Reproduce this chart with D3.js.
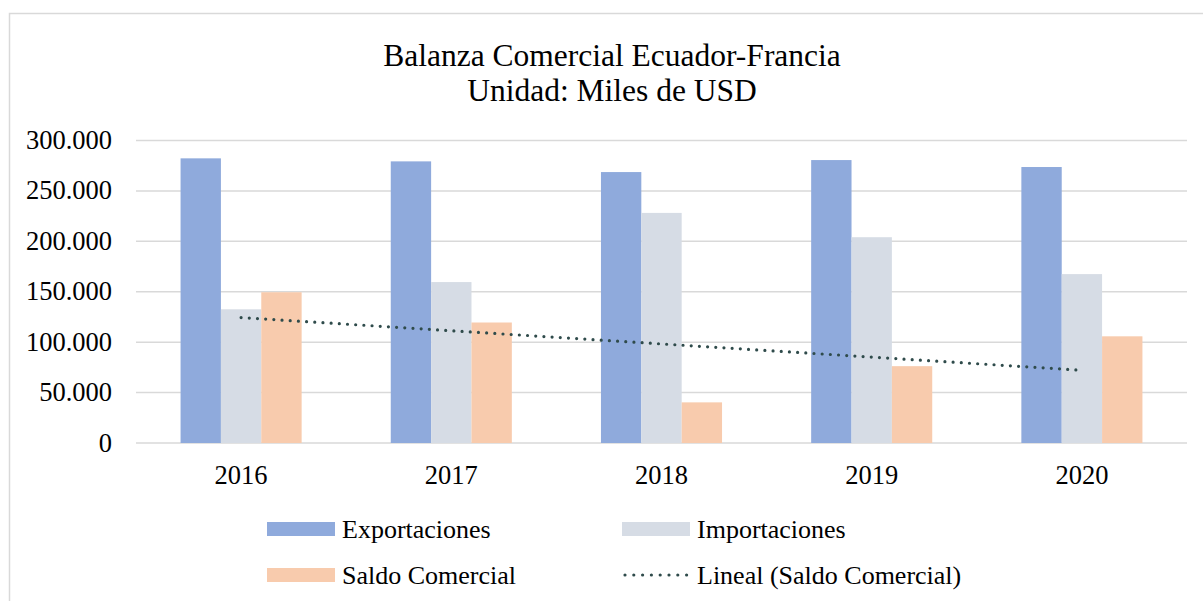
<!DOCTYPE html>
<html>
<head>
<meta charset="utf-8">
<script src="https://cdn.jsdelivr.net/npm/d3@7"></script>
<style>
  body { margin: 0; background: #fff; }
  svg { display: block; font-family: "Liberation Serif", "Times New Roman", serif; }
</style>
</head>
<body>
<div id="plot"></div>
<script>
// Chart data (miles de USD)
const years = ["2016", "2017", "2018", "2019", "2020"];
const exportaciones = [282300, 279300, 268700, 280600, 273700];
const importaciones = [132600, 159600, 228200, 204100, 167500];
const saldoComercial = [149500, 119500, 40300, 76200, 105800];
const yTicks = [0, 50000, 100000, 150000, 200000, 250000, 300000];
const seriesNames = ["Exportaciones", "Importaciones", "Saldo Comercial"];
const trendName = "Lineal (Saldo Comercial)";
const titleLines = ["Balanza Comercial Ecuador-Francia", "Unidad: Miles de USD"];

const colors = ["#8faadc", "#d6dce5", "#f8cbad"];
const trendColor = "#2f4b4b";

const width = 1203;
const height = 601;
const marginTop = 140.5;
const marginBottom = 158;
const plotLeft = 136;
const plotRight = 1187;

const svg = d3.select("#plot")
    .append("svg")
    .attr("width", width)
    .attr("height", height)
    .attr("viewBox", [0, 0, width, height]);

// Chart frame
svg.append("rect")
    .attr("x", 9.5).attr("y", 13.5)
    .attr("width", width + 20).attr("height", height + 20)
    .attr("fill", "#fff")
    .attr("stroke", "#d9d9d9")
    .attr("stroke-width", 1.5);

function addText(g, x, y, str, size, anchor) {
    return g.append("text")
        .attr("x", x).attr("y", y)
        .attr("text-anchor", anchor || "start")
        .attr("font-size", size)
        .attr("fill", "#000")
        .text(str);
}

// Title
addText(svg, 612, 66, titleLines[0], 31.5, "middle");
addText(svg, 612, 101, titleLines[1], 31.5, "middle");

// Scales
const y = d3.scaleLinear()
    .domain([0, 300000])
    .range([height - marginBottom, marginTop]);

const x0 = d3.scaleBand()
    .domain(years)
    .range([plotLeft, plotRight])
    .paddingInner(0.424)
    .paddingOuter(0.212);

const x1 = d3.scaleBand()
    .domain(seriesNames)
    .range([0, x0.bandwidth()]);

// Gridlines
svg.append("g")
    .selectAll("line")
    .data(yTicks)
    .join("line")
    .attr("x1", plotLeft).attr("x2", plotRight)
    .attr("y1", d => y(d)).attr("y2", d => y(d))
    .attr("stroke", "#d9d9d9")
    .attr("stroke-width", 1.5);

// Y tick labels
const fmt = d => d === 0 ? "0" : d3.format(",")(d).replace(/,/g, ".");
const yLab = svg.append("g");
yTicks.forEach(t => addText(yLab, 112, y(t) + 8.5, fmt(t), 26.5, "end"));

// X tick labels
const xLab = svg.append("g");
years.forEach(yr => addText(xLab, x0(yr) + x0.bandwidth() / 2, 484, yr, 26.5, "middle"));

// Bars
const seriesData = [exportaciones, importaciones, saldoComercial];
const rows = years.map((yr, i) => ({
    year: yr,
    values: seriesNames.map((s, k) => ({ key: s, k: k, value: seriesData[k][i] }))
}));

svg.append("g")
    .selectAll("g")
    .data(rows)
    .join("g")
    .attr("transform", d => `translate(${x0(d.year)},0)`)
    .selectAll("rect")
    .data(d => d.values)
    .join("rect")
    .attr("x", d => x1(d.key))
    .attr("y", d => y(d.value))
    .attr("width", x1.bandwidth())
    .attr("height", d => y(0) - y(d.value))
    .attr("fill", d => colors[d.k]);

// Linear trend of the saldo comercial (least squares over category index)
const n = saldoComercial.length;
const mx = d3.mean(d3.range(n));
const my = d3.mean(saldoComercial);
const slope = d3.sum(saldoComercial, (v, i) => (i - mx) * (v - my)) /
    d3.sum(d3.range(n), i => (i - mx) * (i - mx));
const icept = my - slope * mx;
const trend = [0, n - 1].map(i => [x0(years[i]) + x0.bandwidth() / 2, y(icept + slope * i)]);

svg.append("path")
    .attr("d", d3.line()(trend))
    .attr("fill", "none")
    .attr("stroke", trendColor)
    .attr("stroke-width", 3.2)
    .attr("stroke-linecap", "round")
    .attr("stroke-dasharray", "0 8.2");

// Legend
const legend = svg.append("g");
const legendItems = [
    { label: seriesNames[0], x: 267, y: 529, type: "rect", color: colors[0] },
    { label: seriesNames[1], x: 622, y: 529, type: "rect", color: colors[1] },
    { label: seriesNames[2], x: 267, y: 575, type: "rect", color: colors[2] },
    { label: trendName, x: 622, y: 575, type: "dots", color: trendColor }
];
legendItems.forEach(it => {
    if (it.type === "rect") {
        legend.append("rect")
            .attr("x", it.x).attr("y", it.y - 7)
            .attr("width", 68).attr("height", 14)
            .attr("fill", it.color);
    } else {
        legend.append("line")
            .attr("x1", it.x + 3).attr("x2", it.x + 65)
            .attr("y1", it.y).attr("y2", it.y)
            .attr("stroke", it.color)
            .attr("stroke-width", 3.2)
            .attr("stroke-linecap", "round")
            .attr("stroke-dasharray", "0 8.8");
    }
    addText(legend, it.x + 75, it.y + 8.5, it.label, 26, "start");
});
</script>
</body>
</html>
